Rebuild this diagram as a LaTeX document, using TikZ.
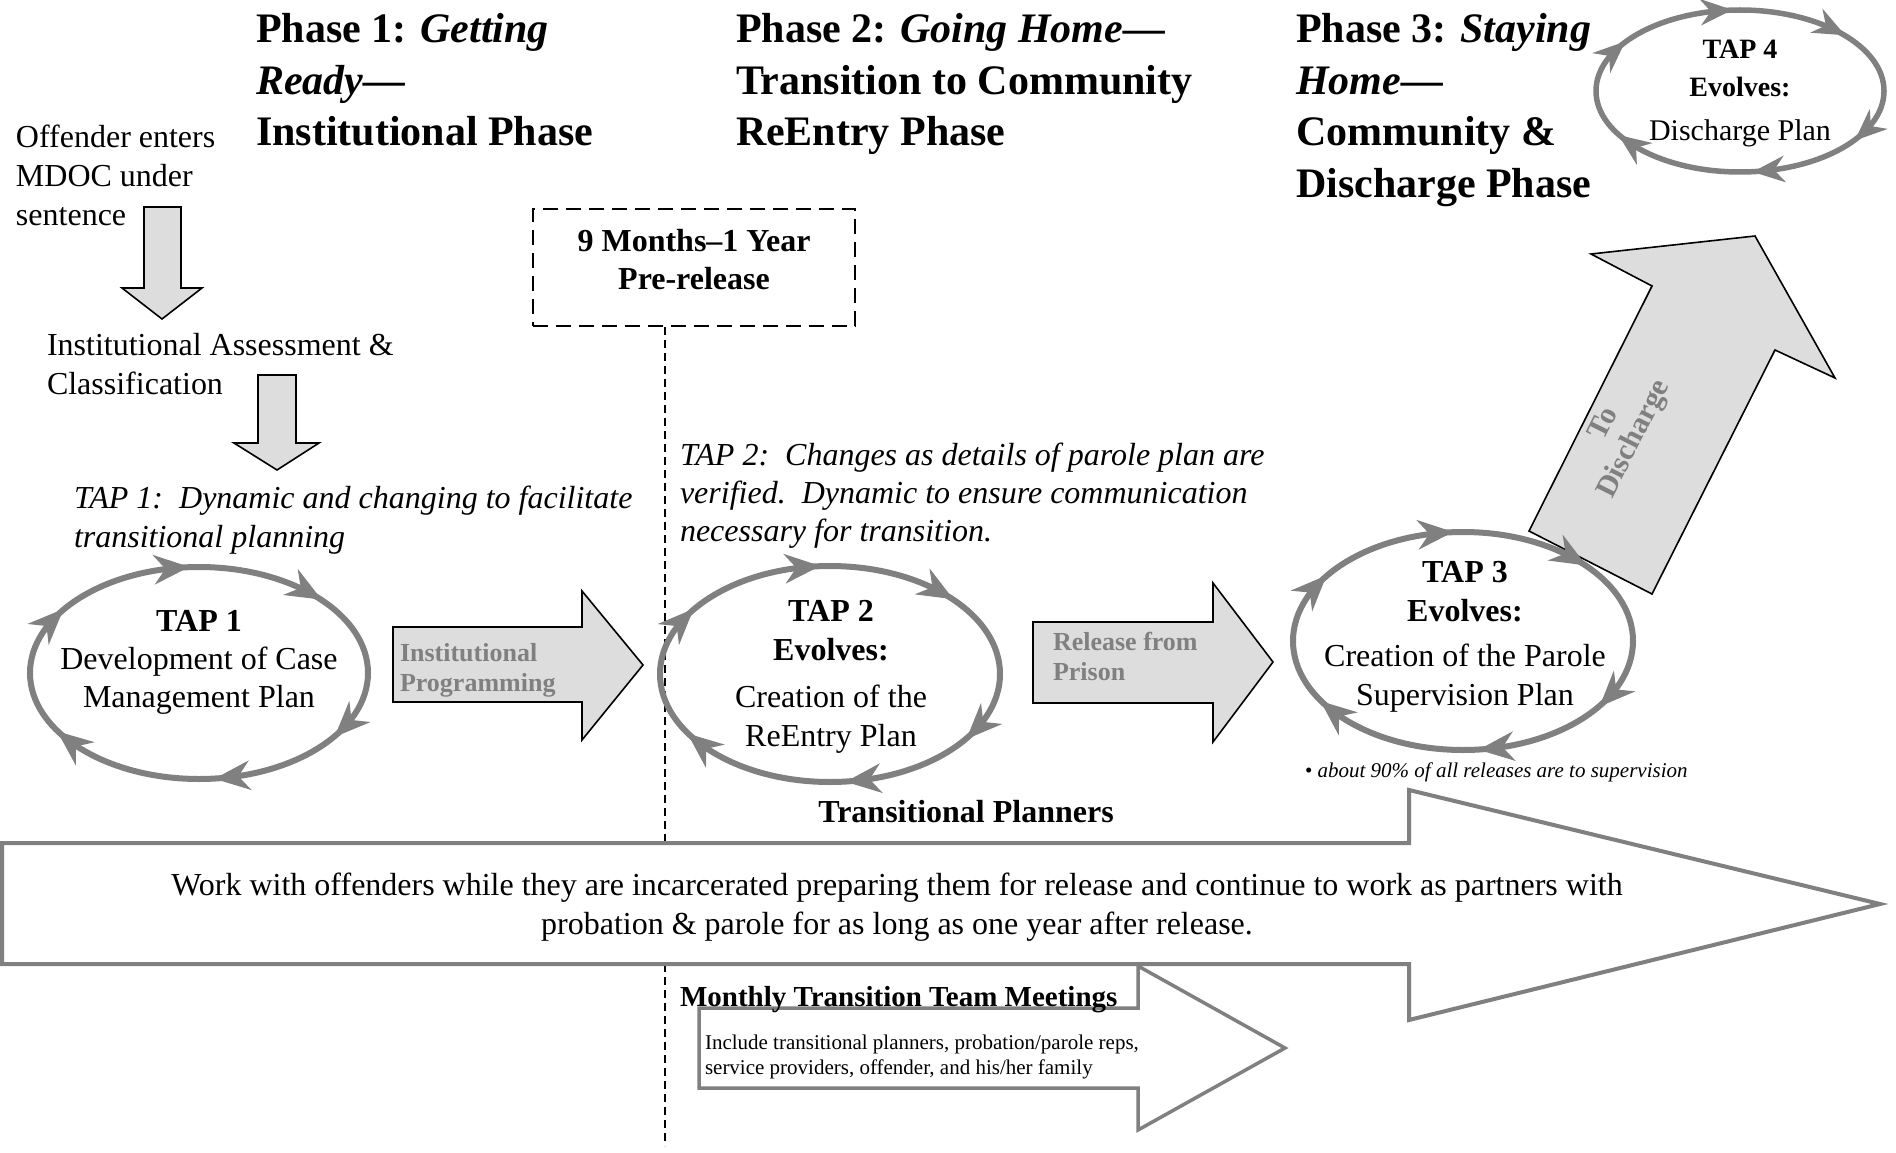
\documentclass[tikz,border=0pt]{standalone}
\usepackage{fontspec}
\setmainfont{Liberation Serif}
\usetikzlibrary{shapes.geometric}
\definecolor{cycgray}{RGB}{128,128,128}
\definecolor{boxfill}{RGB}{221,221,221}
\newcommand{\fsz}[2]{\fontsize{#1pt}{#2pt}\selectfont}
% arrowheads round a cycle ellipse: cx, cy, rx, ry, scale
\newcommand{\cyclearrows}[5]{%
  \foreach \qa in {97,48,-32,-81,-142,148}{%
    \pgfmathsetmacro{\cpx}{#1+#3*cos(\qa)}%
    \pgfmathsetmacro{\cpy}{#2-#4*sin(\qa)}%
    \pgfmathsetmacro{\cpa}{atan2(-#4*cos(\qa),#3*sin(\qa))}%
    \fill[cycgray, shift={(\cpx,\cpy)}, rotate=\cpa, scale=#5] (11,0) -- (-25,15) -- (-13,0) -- (-25,-15) -- cycle;
  }%
}
\begin{document}
\begin{tikzpicture}[x=1pt,y=-1pt,
  lbl/.style={inner sep=0pt, outer sep=0pt},
  body/.style={lbl, font=\fsz{32}{39}},
  title/.style={lbl, align=left, anchor=north west, font=\fsz{42}{51.5}\bfseries},
  tapring/.style={ellipse, draw=cycgray, line width=6pt, inner sep=0pt},
  blockarrow/.style={draw=black, line width=1.6pt, fill=boxfill, line join=miter},
  bigarrow/.style={draw=cycgray, line width=4pt, fill=white, line join=miter},
  arrowlbl/.style={lbl, text=cycgray, font=\fsz{26}{30}\bfseries, align=left, anchor=north west},
  dashbox/.style={draw=black, line width=2pt, dash pattern=on 15pt off 8pt, inner sep=0pt},
]
\path[use as bounding box, fill=white] (0,0) rectangle (1896,1153);

% phase titles
\node[title] (ph1) at (256,13.5) {Phase 1: \textit{Getting}\\\textit{Ready---}\\Institutional Phase};
\node[title] (ph2) at (736,13.5) {Phase 2: \textit{Going Home---}\\Transition to Community\\ReEntry Phase};
\node[title] (ph3) at (1296,13.5) {Phase 3: \textit{Staying}\\\textit{Home---}\\Community \&\\Discharge Phase};

% left column
\node[body, align=left, anchor=north west] (offender) at (16,125) {Offender enters\\MDOC under\\sentence};
\node[body, align=left, anchor=north west] (assess) at (47,333) {Institutional Assessment \&\\Classification};
\draw[blockarrow] (144,207) -- (181,207) -- (181,288) -- (202,288) -- (162,319) -- (122,288) -- (144,288) -- cycle;
\draw[blockarrow] (258,375) -- (296,375) -- (296,443) -- (319,443) -- (277,470) -- (234,443) -- (258,443) -- cycle;

% notes
\node[lbl, align=left, anchor=north west, font=\fsz{32}{39}\itshape] (tap1note) at (74,486) {TAP 1:\ \ Dynamic and changing to facilitate\\transitional planning};
\node[lbl, align=left, anchor=north west, font=\fsz{32}{38}\itshape] (tap2note) at (680,443) {TAP 2:\ \ Changes as details of parole plan are\\verified.\ \ Dynamic to ensure communication\\necessary for transition.};

% pre-release box and dashed line
\node[dashbox, minimum width=322pt, minimum height=117pt] (prerel) at (694,267.5) {};
\node[lbl, align=center, anchor=north, font=\fsz{32}{38}\bfseries] (preltxt) at (694,229) {9 Months--1 Year\\Pre-release};
\coordinate (dashend) at (665,1146);
\draw[line width=1.5pt, dash pattern=on 8pt off 5pt] (prerel.south -| dashend) -- (dashend);

% to discharge arrow (under TAP 3)
\draw[blockarrow] (1529,531) -- (1652,286) -- (1591,254) -- (1755,236) -- (1835,378) -- (1775,350) -- (1652,594) -- cycle;
\node[lbl, text=cycgray, font=\fsz{30}{34}\bfseries, align=center, rotate=63.3] (distxt) at (1620,432) {To\\Discharge};

% TAP cycles
\node[tapring, minimum width=338pt, minimum height=212pt] (tap1) at (199,673) {};
\cyclearrows{199}{673}{169}{106}{1}
\node[lbl, align=center, anchor=north, font=\fsz{32}{38}] (tap1txt) at (199,610) {\textbf{TAP 1}\\Development of Case\\Management Plan};

\node[tapring, minimum width=340pt, minimum height=216pt] (tap2) at (830,674) {};
\cyclearrows{830}{674}{170}{108}{1}
\node[lbl, align=center, anchor=north, font=\fsz{32}{39}] (tap2txt) at (831,600) {\textbf{TAP 2}\\\textbf{Evolves:}\\[8pt]Creation of the\\ReEntry Plan};

\node[tapring, minimum width=340pt, minimum height=218pt] (tap3) at (1463,641) {};
\cyclearrows{1463}{641}{170}{109}{1}
\node[lbl, align=center, anchor=north, font=\fsz{32}{39}] (tap3txt) at (1465,561) {\textbf{TAP 3}\\\textbf{Evolves:}\\[6pt]Creation of the Parole\\Supervision Plan};
\node[lbl, anchor=base west, font=\fsz{21}{25}] (ninety) at (1305,777) {\textbullet\ \textit{about 90\% of all releases are to supervision}};

\node[tapring, line width=5.5pt, minimum width=288pt, minimum height=162pt] (tap4) at (1740,91) {};
\cyclearrows{1740}{91}{144}{81}{0.9}
\node[lbl, align=center, anchor=north, font=\fsz{28}{38}] (tap4txt) at (1740,40) {\textbf{TAP 4}\\\textbf{Evolves:}\\[6pt]{\fsz{30}{38}Discharge Plan}};

% block arrows between cycles
\draw[blockarrow] (393,627) -- (582,627) -- (582,591) -- (643,665) -- (582,740) -- (582,702) -- (393,702) -- cycle;
\node[arrowlbl] (progtxt) at (400,643) {Institutional\\Programming};
\draw[blockarrow] (1033,622) -- (1213,622) -- (1213,583) -- (1273,662) -- (1213,742) -- (1213,703) -- (1033,703) -- cycle;
\node[arrowlbl] (reltxt) at (1053,632) {Release from\\Prison};

% transitional planners arrow
\draw[bigarrow] (2,843) -- (1409,843) -- (1409,790) -- (1880,904) -- (1409,1020) -- (1409,964) -- (2,964) -- cycle;
\node[lbl, anchor=base, font=\fsz{32}{38}\bfseries] (tptitle) at (966,822.5) {Transitional Planners};
\node[lbl, align=center, anchor=north, font=\fsz{32}{39}] (tptxt) at (897,873) {Work with offenders while they are incarcerated preparing them for release and continue to work as partners with\\probation \& parole for as long as one year after release.};

% monthly meetings arrow
\draw[bigarrow, line width=3.5pt] (699,1008) -- (1138,1008) -- (1138,966) -- (1285,1048) -- (1138,1130) -- (1138,1088) -- (699,1088) -- cycle;
\node[lbl, anchor=base west, font=\fsz{29}{34}\bfseries] (mttm) at (680,1006) {Monthly Transition Team Meetings};
\node[lbl, align=left, anchor=north west, font=\fsz{21}{25}] (mttmtxt) at (705,1035) {Include transitional planners, probation/parole reps,\\service providers, offender, and his/her family};
\end{tikzpicture}
\end{document}
